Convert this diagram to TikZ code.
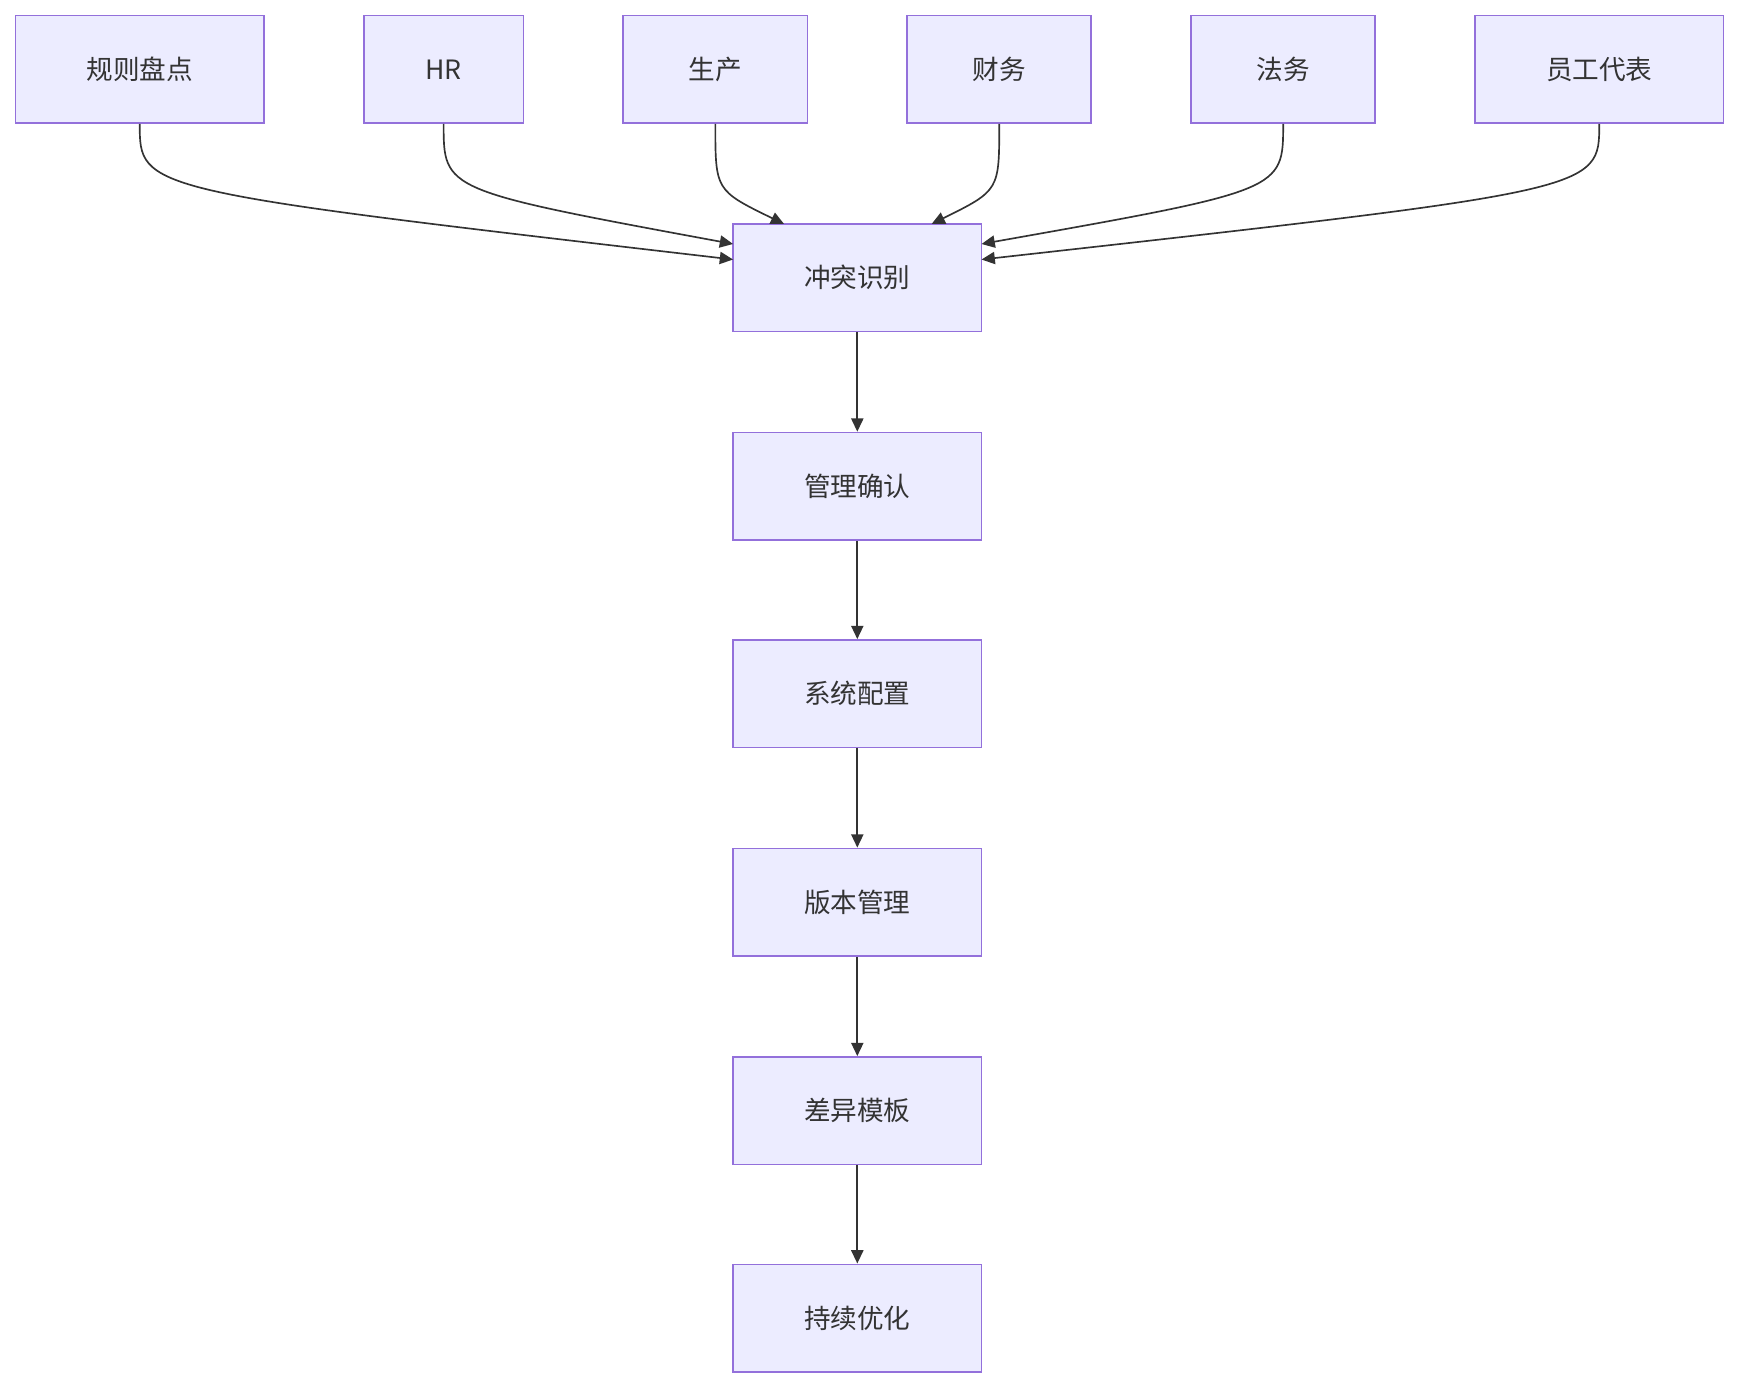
\documentclass[tikz,border=0pt]{standalone}
\usepackage{fontspec}
\setmainfont{Noto Sans CJK SC}
\usetikzlibrary{arrows.meta,calc}
\definecolor{bx}{HTML}{ECECFF}
\definecolor{bd}{HTML}{9370DB}
\definecolor{tx}{HTML}{333333}
\begin{document}
\begin{tikzpicture}[x=1pt,y=-1pt,
 box/.style={draw=bd,fill=bx,line width=1.5pt,minimum height=97pt,inner sep=0pt,font=\fontsize{24}{28}\selectfont,text=tx},
 ar/.style={draw=tx,line width=1.5pt,-{Triangle[length=12pt,width=11pt]}}]
\useasboundingbox (0,0) rectangle (1568,1251.5);
\node[box,minimum width=224pt] (a) at (126,62.5) {规则盘点};
\node[box,minimum width=144pt] (b) at (400,62.5) {HR};
\node[box,minimum width=166pt] (c) at (645,62.5) {生产};
\node[box,minimum width=166pt] (d) at (901,62.5) {财务};
\node[box,minimum width=166pt] (e) at (1157,62.5) {法务};
\node[box,minimum width=224pt] (f) at (1442,62.5) {员工代表};
\node[box,minimum width=224pt] (m1) at (773,250.5) {冲突识别};
\node[box,minimum width=224pt] (m2) at (773,438.5) {管理确认};
\node[box,minimum width=224pt] (m3) at (773,625.5) {系统配置};
\node[box,minimum width=224pt] (m4) at (773,813.5) {版本管理};
\node[box,minimum width=224pt] (m5) at (773,1001.5) {差异模板};
\node[box,minimum width=224pt] (m6) at (773,1188.5) {持续优化};
\coordinate (ea) at (661,234);
\coordinate (eb) at (661,220);
\coordinate (ec) at (707,202);
\coordinate (ed) at (840,202);
\coordinate (ee) at (885,220);
\coordinate (ef) at (885,234);
\draw[ar] (a.south) .. controls ($(a.south)+(0,60)$) .. (ea);
\draw[ar] (b.south) .. controls ($(b.south)+(0,60)$) .. (eb);
\draw[ar] (c.south) .. controls ($(c.south)+(0,60)$) .. (ec);
\draw[ar] (d.south) .. controls ($(d.south)+(0,60)$) .. (ed);
\draw[ar] (e.south) .. controls ($(e.south)+(0,60)$) .. (ee);
\draw[ar] (f.south) .. controls ($(f.south)+(0,60)$) .. (ef);
\draw[ar] (m1) -- (m2);
\draw[ar] (m2) -- (m3);
\draw[ar] (m3) -- (m4);
\draw[ar] (m4) -- (m5);
\draw[ar] (m5) -- (m6);
\end{tikzpicture}
\end{document}
